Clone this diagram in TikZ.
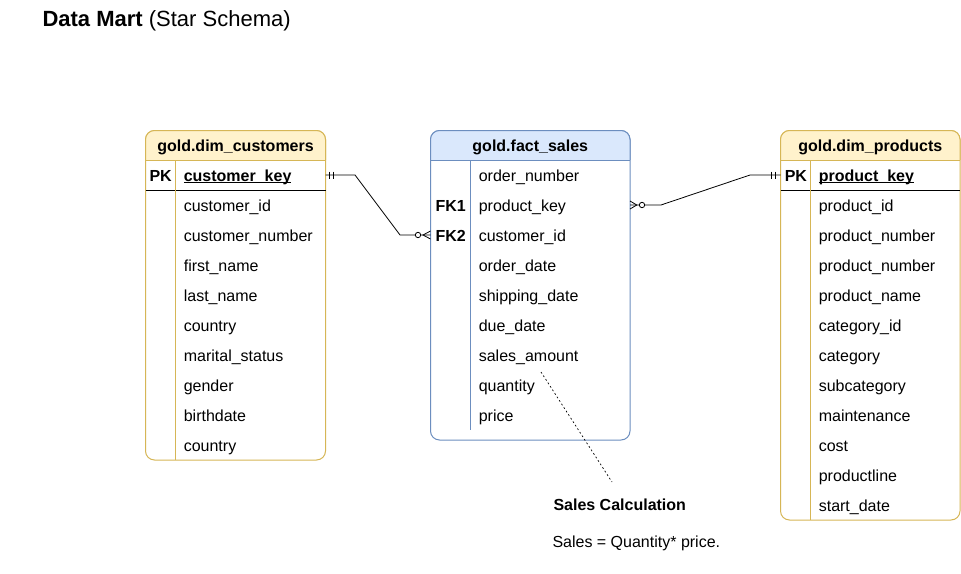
\documentclass[tikz,border=0pt]{standalone}
\usepackage{fontspec}
\setmainfont{Liberation Sans}
\usetikzlibrary{positioning}

\definecolor{dimfill}{HTML}{FFF2CC}
\definecolor{dimline}{HTML}{D6B656}
\definecolor{factfill}{HTML}{DAE8FC}
\definecolor{factline}{HTML}{6C8EBF}

\newcommand\keyname[1]{\setbox0\hbox{#1}\rlap{\rule[-1.9pt]{\wd0}{0.9pt}}#1}

\tikzset{
  fld/.style={anchor=base west, inner sep=0pt, font=\fontsize{16}{19}\selectfont},
  keyfld/.style={fld, font=\fontsize{16}{19}\selectfont\bfseries},
  ttl/.style={anchor=base, inner sep=0pt, font=\fontsize{16}{19}\selectfont\bfseries},
  rel/.style={line width=0.8pt},
}

\begin{document}
\begin{tikzpicture}[x=1pt, y=-1pt, line width=1pt]
  \useasboundingbox (0,0) rectangle (961,573);

  \node[anchor=base west, inner sep=0pt, font=\fontsize{22}{26}\selectfont] (title) at (42,26.5)
    {\textbf{Data Mart} (Star Schema)};

  % gold.dim_customers
  \draw[dimline, fill=white, rounded corners=9] (145.5,130.5) rectangle (325.5,460);
  \filldraw[draw=dimline, fill=dimfill, rounded corners=9] (145.5,160) -- (145.5,130.5) -- (325.5,130.5) -- (325.5,160);
  \draw[dimline] (145.5,160) -- (325.5,160);
  \draw (145.5,190) -- (325.5,190);
  \draw[dimline] (175.5,160) -- (175.5,460);

  \node[ttl] (custttl) at (235.5,151) {gold.dim\_customers};
  \node[keyfld] (custpk) at (149,181) {PK};
  \node[keyfld] (custkey) at (183.3,181) {\keyname{customer\_key}};
  \foreach \f [count=\i] in {customer\_id, customer\_number, first\_name, last\_name, country,
      marital\_status, gender, birthdate, country}
    \node[fld] (cust\i) at (183.3,181+30*\i) {\f};

  % gold.fact_sales
  \draw[factline, fill=white, rounded corners=9] (430.5,130.5) rectangle (630,440);
  \filldraw[draw=factline, fill=factfill, rounded corners=9] (430.5,160) -- (430.5,130.5) -- (630,130.5) -- (630,160);
  \draw[factline] (430.5,160) -- (630,160);
  \draw[factline] (470.5,160) -- (470.5,430);

  \node[ttl] (factttl) at (530.25,151) {gold.fact\_sales};
  \node[keyfld] (fk1) at (435,211) {FK1};
  \node[keyfld] (fk2) at (435,241) {FK2};
  \foreach \f [count=\i] in {order\_number, product\_key, customer\_id, order\_date, shipping\_date,
      due\_date, sales\_amount, quantity, price}
    \node[fld] (fact\i) at (478.3,151+30*\i) {\f};

  % gold.dim_products
  \draw[dimline, fill=white, rounded corners=9] (780.5,130.5) rectangle (960,520);
  \filldraw[draw=dimline, fill=dimfill, rounded corners=9] (780.5,160) -- (780.5,130.5) -- (960,130.5) -- (960,160);
  \draw[dimline] (780.5,160) -- (960,160);
  \draw (780.5,190) -- (960,190);
  \draw[dimline] (810.5,160) -- (810.5,520);

  \node[ttl] (prodttl) at (870.25,151) {gold.dim\_products};
  \node[keyfld] (prodpk) at (784.3,181) {PK};
  \node[keyfld] (prodkey) at (818.3,181) {\keyname{product\_key}};
  \foreach \f [count=\i] in {product\_id, product\_number, product\_number, product\_name, category\_id,
      category, subcategory, maintenance, cost, productline, start\_date}
    \node[fld] (prod\i) at (818.3,181+30*\i) {\f};

  % Beziehungen
  \coordinate (custend) at (325.5,175);
  \coordinate (fk2end) at (430.5,235);
  \coordinate (fk1end) at (630,205);
  \coordinate (prodend) at (780.5,175);

  \draw[rel] (custend) -- ++(29.5,0) -- ++(45,60) -- (fk2end);
  \draw[rel] (custend) ++(4,-3.5) -- ++(0,7) ++(4,-7) -- ++(0,7);
  \draw[rel, fill=white] (fk2end) ++(-12.5,0) circle (2.7);
  \draw[rel] (fk2end) ++(0,-4) -- ++(-7.5,4) -- ++(7.5,4);

  \draw[rel] (fk1end) -- ++(31,0) -- ++(89,-30) -- (prodend);
  \draw[rel] (prodend) ++(-9,-3.5) -- ++(0,7) ++(4,-7) -- ++(0,7);
  \draw[rel, fill=white] (fk1end) ++(12,0) circle (2.7);
  \draw[rel] (fk1end) ++(0,-4) -- ++(6.8,4) -- ++(-6.8,4);

  % Notiz
  \coordinate (amount) at (541,372);
  \coordinate (notetip) at (612,482);
  \draw[line width=0.7pt, dash pattern=on 1.8pt off 2.4pt] (amount) -- (notetip);
  \node[keyfld] (notettl) at (553,510) {Sales Calculation};
  \node[fld] (notetxt) at (552,547.5) {Sales = Quantity* price.};

\end{tikzpicture}
\end{document}
